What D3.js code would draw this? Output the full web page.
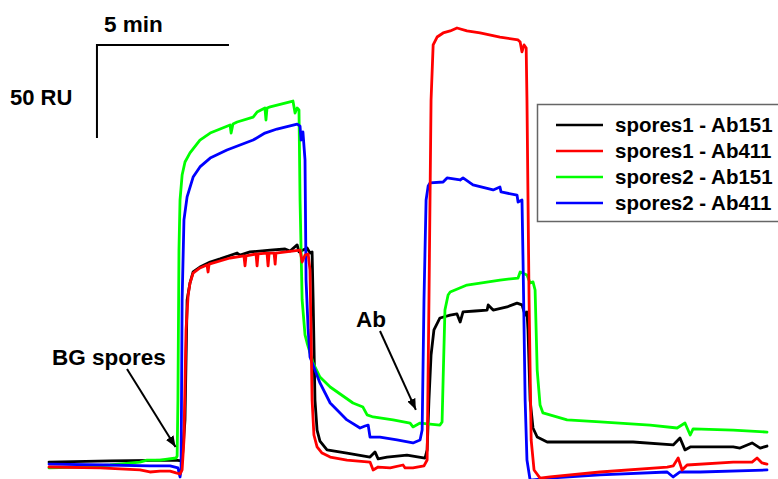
<!DOCTYPE html>
<html><head><meta charset="utf-8">
<script src="https://cdn.jsdelivr.net/npm/d3@7/dist/d3.min.js"></script>
<style>
html,body{margin:0;padding:0;background:#fff;}
svg{display:block;}
text{font-family:"Liberation Sans",Arial,Helvetica,sans-serif;font-weight:bold;fill:#000;}
</style></head>
<body>
<svg id="chart" width="778" height="479"></svg>
<script>
// time (min), response (RU)
const seriesNames = ["spores1 - Ab151", "spores1 - Ab411", "spores2 - Ab151", "spores2 - Ab411"];
const seriesColors = ["#000000", "#ff0000", "#00ff00", "#0000ff"];

const s1Ab151 = [[0,1.6],[2.33,2.2],[4.81,2.7],[5.08,2.2],[5.19,24.5],[5.27,89.7],[5.38,98.9],[5.5,104.9],[5.76,107.6],[6.15,110.3],[6.53,112.0],[7.18,115.2],[7.29,114.1],[7.67,115.8],[8.44,116.8],[9.01,117.4],[9.2,116.3],[9.47,119.6],[9.54,115.8],[9.85,117.9],[9.96,115.2],[10.04,115.8],[10.08,89.7],[10.15,35.3],[10.23,19.0],[10.34,13.0],[10.61,8.2],[11.37,6.5],[12.25,4.3],[12.44,7.1],[12.56,3.3],[12.9,4.3],[13.66,5.4],[14.35,3.8],[14.43,8.2],[14.5,35.3],[14.58,59.8],[14.69,73.4],[14.92,79.9],[15.31,81.5],[15.57,82.1],[15.69,77.7],[15.8,83.2],[16.26,83.7],[16.72,84.2],[16.76,87.0],[16.95,84.2],[17.48,85.9],[17.86,88.0],[18.05,87.0],[18.17,81.5],[18.24,83.2],[18.28,73.4],[18.36,35.3],[18.47,20.1],[18.63,15.2],[19.01,12.5],[19.77,12.5],[22.29,12.5],[23.82,10.9],[24.08,14.7],[24.27,8.2],[24.47,9.8],[26.11,9.8],[26.37,9.2],[26.83,12.0],[27.14,9.2],[27.4,10.3]];

const s1Ab411 = [[0,-1.1],[1.95,-1.6],[3.47,-2.7],[3.85,-3.8],[4.24,-3.3],[4.62,-3.3],[4.85,-4.3],[5.0,-4.9],[5.08,-2.7],[5.15,13.6],[5.23,73.4],[5.31,92.4],[5.38,98.9],[5.5,104.3],[5.76,107.1],[6.03,108.7],[6.07,104.9],[6.11,109.2],[6.91,112.5],[7.44,113.6],[7.48,108.2],[7.52,113.6],[7.9,114.7],[7.94,108.2],[7.98,114.7],[8.32,115.2],[8.36,108.2],[8.4,115.2],[8.59,115.2],[8.63,109.2],[8.66,115.2],[9.58,116.8],[9.66,110.3],[9.77,114.1],[9.89,114.7],[9.96,106.0],[10.04,35.3],[10.11,16.3],[10.23,9.8],[10.42,6.5],[10.73,4.3],[11.37,2.7],[12.25,1.6],[12.37,-2.7],[12.56,-1.1],[13.02,-1.6],[13.51,0],[13.59,-1.6],[13.89,-1.6],[14.31,-0.5],[14.43,2.7],[14.5,89.7],[14.58,198.4],[14.66,228.3],[14.81,232.6],[15.04,234.8],[15.31,235.9],[15.57,237.5],[15.95,235.9],[16.45,234.8],[17.21,232.6],[17.9,231.0],[17.98,229.9],[18.05,224.5],[18.13,228.3],[18.21,226.6],[18.24,198.4],[18.32,89.7],[18.4,13.6],[18.51,-2.7],[18.74,-7.1],[19.12,-6.5],[21.03,-3.8],[23.59,-1.1],[23.82,-0.5],[24.01,3.8],[24.16,-2.7],[24.35,0],[26.11,1.6],[26.83,1.6],[27.02,3.8],[27.21,1.1],[27.4,0.5]];

const s2Ab151 = [[0,-1.6],[1.18,-1.1],[2.33,0],[3.47,1.6],[3.74,2.7],[4.24,2.7],[4.85,3.8],[4.89,4.9],[4.92,35.3],[4.96,116.8],[5.0,144.0],[5.08,157.6],[5.19,164.7],[5.38,169.6],[5.76,176.6],[6.15,180.4],[6.53,182.6],[6.91,184.8],[6.95,180.4],[7.02,185.3],[7.18,186.4],[7.79,189.1],[7.94,191.8],[8.24,194.0],[8.28,187.5],[8.32,194.0],[8.44,194.6],[9.31,197.8],[9.39,191.3],[9.47,194.0],[9.54,192.9],[9.58,144.0],[9.66,89.7],[9.77,70.7],[9.85,66.3],[10.08,55.4],[10.34,47.8],[10.73,42.4],[11.6,33.7],[11.98,31.5],[12.14,27.2],[12.37,26.1],[13.13,24.5],[13.78,22.8],[13.89,20.7],[14.16,22.8],[14.92,21.7],[15.0,23.4],[15.04,46.2],[15.11,84.2],[15.23,92.4],[15.31,94.0],[15.95,97.8],[17.21,100.5],[17.9,101.6],[17.98,104.9],[18.24,103.3],[18.36,98.9],[18.47,99.5],[18.55,95.1],[18.63,51.6],[18.74,32.6],[18.85,28.3],[19.77,24.5],[21.03,23.4],[22.94,21.7],[23.97,20.1],[24.27,22.8],[24.47,16.3],[24.58,19.6],[26.11,19.0],[27.4,17.9]];

const s2Ab411 = [[0,0.5],[2.21,0],[3.85,-0.5],[4.62,-0.5],[4.92,-1.6],[5.0,-6.5],[5.04,-2.7],[5.08,89.7],[5.15,133.2],[5.27,145.7],[5.5,156.5],[5.76,162.0],[6.15,166.8],[6.79,171.2],[7.79,176.6],[8.24,180.4],[8.7,182.6],[9.47,185.3],[9.58,184.2],[9.62,176.6],[9.69,181.0],[9.77,165.8],[9.81,100.5],[9.89,73.4],[9.96,58.7],[10.34,44.6],[10.73,33.7],[11.37,24.5],[11.87,20.1],[12.06,21.2],[12.18,21.7],[12.25,15.2],[12.63,15.2],[13.28,13.6],[13.89,12.0],[14.16,13.6],[14.24,19.0],[14.31,89.7],[14.39,144.0],[14.47,151.6],[14.54,153.3],[15.04,153.8],[15.19,156.0],[15.69,154.9],[15.8,156.0],[16.18,152.2],[16.95,149.5],[17.21,151.1],[17.25,148.4],[17.86,146.7],[17.9,142.9],[18.05,144.0],[18.09,111.4],[18.17,35.3],[18.24,2.7],[18.36,-8.2],[19.12,-7.1],[21.03,-5.4],[23.59,-3.8],[23.82,-6.5],[24.08,-3.8],[24.85,-3.8],[27.4,-2.7]];

const seriesData = [s1Ab151, s1Ab411, s2Ab151, s2Ab411];
const drawOrder = [0, 2, 3, 1];

// scale bar and annotations
const scaleBarMinutes = 5, scaleBarRU = 50;
const scaleBarLabels = ["5 min", "50 RU"];
const annotations = [
  {text: "BG spores", t: 4.83, ru: 9.8},
  {text: "Ab", t: 14.0, ru: 30.0}
];

const svg = d3.select("#chart");
const W = 778, H = 479;
const x = d3.scaleLinear().domain([0, 27.4]).range([49, 767]);
const y = d3.scaleLinear().domain([0, 50]).range([465, 373]);

svg.append("defs").append("clipPath").attr("id","clip")
  .append("rect").attr("x",0).attr("y",0).attr("width",W).attr("height",H);

svg.append("defs").append("marker").attr("id","arrow")
  .attr("viewBox","0 0 10 10").attr("refX",10).attr("refY",5)
  .attr("markerWidth",11).attr("markerHeight",11).attr("markerUnits","userSpaceOnUse")
  .attr("orient","auto")
  .append("path").attr("d","M0,1 L10,5 L0,9 Z").attr("fill","#000");

const line = d3.line().x(d => x(d[0])).y(d => y(d[1]));
const g = svg.append("g").attr("clip-path","url(#clip)");
drawOrder.forEach(i => {
  g.append("path").datum(seriesData[i])
    .attr("d", line).attr("fill","none")
    .attr("stroke", seriesColors[i]).attr("stroke-width", 2.8)
    .attr("stroke-linejoin","round").attr("stroke-linecap","round");
});

// scale bar
const sbT = 1.83, sbRU = 228.3;
const sb = svg.append("g").attr("stroke","#000").attr("stroke-width",2).attr("fill","none");
sb.append("path").attr("d",
  `M${x(sbT + scaleBarMinutes)},${y(sbRU)} L${x(sbT)},${y(sbRU)} L${x(sbT)},${y(sbRU - scaleBarRU)}`)
  .attr("stroke-linecap","square");
svg.append("text").attr("x", 104).attr("y", 32).attr("font-size", 22.5).text(scaleBarLabels[0]);
svg.append("text").attr("x", 10).attr("y", 105).attr("font-size", 22).text(scaleBarLabels[1]);

// annotations
svg.append("text").attr("x", 52).attr("y", 365).attr("font-size", 22.5).text(annotations[0].text);
svg.append("line").attr("x1",127).attr("y1",369).attr("x2",x(annotations[0].t)).attr("y2",y(annotations[0].ru))
  .attr("stroke","#000").attr("stroke-width",2).attr("marker-end","url(#arrow)");
svg.append("text").attr("x", 356).attr("y", 327).attr("font-size", 22.5).text(annotations[1].text);
svg.append("line").attr("x1",380).attr("y1",331).attr("x2",x(annotations[1].t)).attr("y2",y(annotations[1].ru))
  .attr("stroke","#000").attr("stroke-width",2).attr("marker-end","url(#arrow)");

// legend
const lg = svg.append("g");
lg.append("rect").attr("x",537.5).attr("y",104.5).attr("width",260).attr("height",117)
  .attr("fill","#fff").attr("stroke","#666").attr("stroke-width",1.5);
seriesNames.forEach((name, i) => {
  const yy = 125 + i * 26;
  lg.append("line").attr("x1",556).attr("x2",603).attr("y1",yy).attr("y2",yy)
    .attr("stroke", seriesColors[i]).attr("stroke-width",2.5);
  lg.append("text").attr("x",615).attr("y",yy + 7).attr("font-size",20.5).text(name);
});
</script>
</body></html>
